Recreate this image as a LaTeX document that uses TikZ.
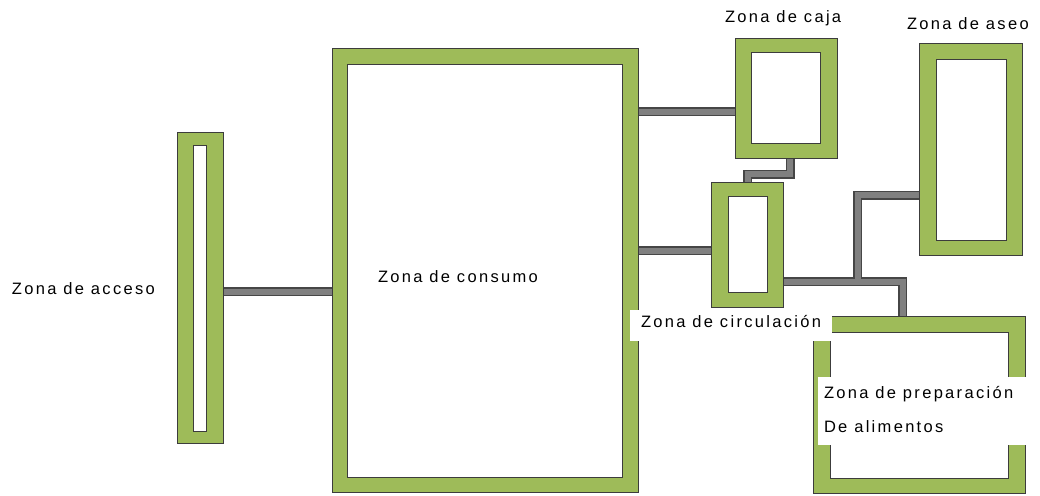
\documentclass[tikz,border=0pt]{standalone}
\usepackage{fontspec}
\setmainfont{Liberation Sans}[LetterSpace=14]
\usetikzlibrary{backgrounds}
\definecolor{zonegreen}{RGB}{158,187,89}
\definecolor{edgedark}{RGB}{60,60,60}
\definecolor{linkgray}{RGB}{128,128,128}
\definecolor{linkedge}{RGB}{70,70,70}
\newcommand{\zonebox}[9]{%
  \node[frame, minimum width={#4pt-#2pt}, minimum height={#5pt-#3pt}] (#1) at (#2,#3) {};
  \node[hole, minimum width={#8pt-#6pt}, minimum height={#9pt-#7pt}] (#1-in) at (#6,#7) {};
}
\newcommand{\linkpaths}[1]{%
  \draw[#1] (acceso.east |- ya) -- (consumo.west |- ya);
  \draw[#1] (consumo.east |- yb) -- (caja.west |- yb);
  \draw[#1] (consumo.east |- yc) -- (circ.west |- yc);
  \draw[#1] (caja.south -| k1) |- (k2) -- (circ.north -| k2);
  \draw[#1] (circ.east |- jn) -- (pr) -- (prep.north -| pr);
  \draw[#1] (jn) |- (aseo.west |- as);
}
\begin{document}
\begin{tikzpicture}[x=1pt,y=-1pt,
  frame/.style={draw=edgedark, fill=zonegreen, line width=0.9pt, inner sep=0pt, outer sep=0pt, anchor=north west},
  hole/.style={draw=edgedark, fill=white, line width=0.9pt, inner sep=0pt, outer sep=0pt, anchor=north west},
  linkout/.style={draw=linkedge, line width=9pt, line cap=butt, line join=miter},
  linkin/.style={draw=linkgray, line width=6pt, line cap=butt, line join=miter},
  labelbg/.style={fill=white, draw=none, inner sep=0pt, outer sep=0pt, anchor=north west},
  lbl/.style={anchor=base west, inner sep=0pt, outer sep=0pt, font=\fontsize{16.5}{20}\selectfont, text=black}]
\useasboundingbox (0,0) rectangle (1040,495);
\coordinate (ya) at (0,291.5);
\coordinate (yb) at (0,111.5);
\coordinate (yc) at (0,250.5);
\coordinate (k1) at (790,174);
\coordinate (k2) at (747.5,174);
\coordinate (jn) at (857.5,281.5);
\coordinate (pr) at (902.5,281.5);
\coordinate (as) at (0,195);
% zones
\zonebox{acceso}{177}{132}{223}{443}{193}{145}{206}{431}
\zonebox{consumo}{332}{48}{638}{492}{347}{64}{622}{477}
\zonebox{caja}{735}{38}{837}{158}{751}{52}{820}{143}
\zonebox{circ}{711}{182}{783}{307}{728}{196}{767}{292}
\zonebox{aseo}{919}{43}{1022}{255}{936}{59}{1006}{240}
\zonebox{prep}{813}{316}{1025}{493}{830}{332}{1008}{478}
% connectors behind the zones (outline pass, then fill pass)
\begin{pgfonlayer}{background}
  \linkpaths{linkout}
  \linkpaths{linkin}
\end{pgfonlayer}
% label backgrounds
\node[labelbg, minimum width=202pt, minimum height=31pt] (circbg) at (630,310) {};
\node[labelbg, minimum width=210pt, minimum height=68pt] (prepbg) at (818,377) {};
% labels
\node[lbl] (tacceso) at (12,294) {Zona de acceso};
\node[lbl] (tconsumo) at (378,282) {Zona de consumo};
\node[lbl] (tcaja) at (725,23) {Zona de caja};
\node[lbl] (taseo) at (907,30) {Zona de aseo};
\node[lbl] (tcirc) at (641,327) {Zona de circulación};
\node[lbl] (tprep1) at (824,398) {Zona de preparación};
\node[lbl] (tprep2) at (824,432) {De alimentos};
\end{tikzpicture}
\end{document}
